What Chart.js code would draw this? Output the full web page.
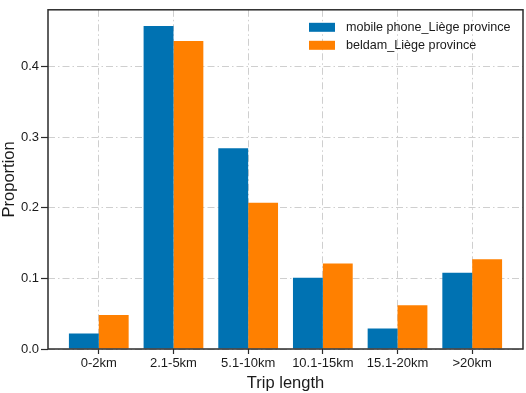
<!DOCTYPE html>
<html>
<head>
<meta charset="utf-8">
<script src="https://cdn.jsdelivr.net/npm/chart.js@4/dist/chart.umd.min.js"></script>
<style>
  html, body { margin: 0; padding: 0; background: #fff; }
  #wrap { width: 526px; height: 393px; }
</style>
</head>
<body>
<div id="wrap"><canvas id="chart" width="526" height="393"></canvas></div>
<script>
// trip length bins
const categories = ['0-2km', '2.1-5km', '5.1-10km', '10.1-15km', '15.1-20km', '>20km'];
const phoneLiege = [0.022, 0.457, 0.284, 0.101, 0.029, 0.108];
const beldamLiege = [0.048, 0.436, 0.207, 0.121, 0.062, 0.127];
const seriesNames = ['mobile phone_Liège province', 'beldam_Liège province'];
const yTicks = [0.0, 0.1, 0.2, 0.3, 0.4];

const FONT = "'Liberation Sans', Arial, Helvetica, sans-serif";
const gridColor = '#cfcfcf';
const frameColor = '#2b2b2b';

// draw the box around the plot and the legend in the upper right corner
const framePlugin = {
  id: 'frame',
  afterDraw(chart) {
    const ctx = chart.ctx;
    const a = chart.chartArea;
    ctx.save();
    ctx.strokeStyle = frameColor;
    ctx.lineWidth = 1.5;
    ctx.strokeRect(a.left, a.top, a.right - a.left, a.bottom - a.top);

    ctx.font = '12.6px ' + FONT;
    ctx.textBaseline = 'middle';
    chart.data.datasets.forEach((ds, i) => {
      const y = a.top + 13 + i * 18;
      ctx.fillStyle = ds.backgroundColor;
      ctx.fillRect(a.right - 214, y, 26, 9);
      ctx.fillStyle = '#1a1a1a';
      ctx.fillText(ds.label, a.right - 177, y + 4.5);
    });
    ctx.restore();
  }
};

const toPoints = vals => vals.map((v, i) => ({ x: i, y: v }));

const ctx = document.getElementById('chart').getContext('2d');
new Chart(ctx, {
  type: 'bar',
  data: {
    datasets: [
      {
        label: seriesNames[0],
        data: toPoints(phoneLiege),
        backgroundColor: '#0072B2',
        borderWidth: 0,
        categoryPercentage: 0.8,
        barPercentage: 1.0
      },
      {
        label: seriesNames[1],
        data: toPoints(beldamLiege),
        backgroundColor: '#FF8000',
        borderWidth: 0,
        categoryPercentage: 0.8,
        barPercentage: 1.0
      }
    ]
  },
  options: {
    responsive: false,
    animation: false,
    layout: { padding: { top: 2, right: 3, left: 0, bottom: 0 } },
    plugins: {
      legend: { display: false },
      tooltip: { enabled: false }
    },
    scales: {
      x: {
        type: 'linear',
        min: -0.68,
        max: 5.68,
        offset: false,
        afterBuildTicks: scale => {
          scale.ticks = categories.map((c, i) => ({ value: i }));
        },
        afterFit: scale => { scale.height = 44; },
        ticks: {
          autoSkip: false,
          maxRotation: 0,
          padding: 2,
          color: '#1a1a1a',
          font: { family: FONT, size: 13 },
          callback: v => categories[v]
        },
        grid: {
          offset: false,
          color: gridColor,
          lineWidth: 1,
          tickLength: 5,
          tickColor: frameColor,
          tickWidth: 1.2
        },
        border: { display: false, dash: [7, 3, 1.5, 3] },
        title: {
          display: true,
          text: 'Trip length',
          color: '#1a1a1a',
          font: { family: FONT, size: 16.5 },
          padding: { top: 0, bottom: 0 }
        }
      },
      y: {
        min: 0,
        max: 0.48,
        afterBuildTicks: scale => {
          scale.ticks = yTicks.map(v => ({ value: v }));
        },
        afterFit: scale => { scale.width = 48; },
        ticks: {
          padding: 2,
          color: '#1a1a1a',
          font: { family: FONT, size: 13 },
          callback: v => v.toFixed(1)
        },
        grid: {
          color: gridColor,
          lineWidth: 1,
          tickLength: 7,
          tickColor: frameColor,
          tickWidth: 1.2
        },
        border: { display: false, dash: [7, 3, 1.5, 3] },
        title: {
          display: true,
          text: 'Proportion',
          color: '#1a1a1a',
          font: { family: FONT, size: 16.5 },
          padding: { top: 0, bottom: 0 }
        }
      }
    }
  },
  plugins: [framePlugin]
});
</script>
</body>
</html>
